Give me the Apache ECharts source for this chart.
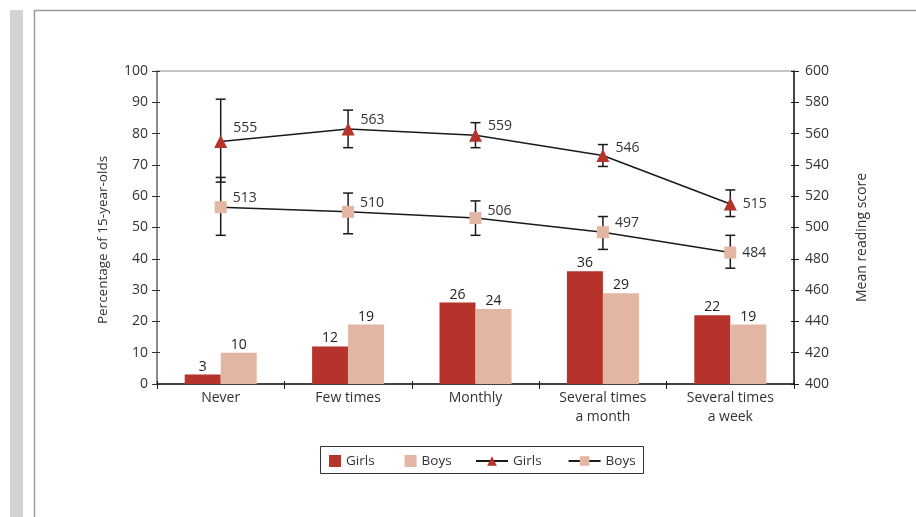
<!DOCTYPE html>
<html>
<head>
<meta charset="utf-8">
<script src="https://cdn.jsdelivr.net/npm/echarts@6/dist/echarts.min.js"></script>
<style>
  html, body { margin: 0; padding: 0; background: #fff; }
  #chart { width: 916px; height: 517px; }
</style>
</head>
<body>
<div id="chart"></div>
<script>
// Reading frequency categories
const categories = ['Never', 'Few times', 'Monthly', 'Several times\na month', 'Several times\na week'];

// Share of 15-year-olds (%)
const girlsPct = [3, 12, 26, 36, 22];
const boysPct = [10, 19, 24, 29, 19];

// Mean reading score
const girlsScore = [555, 563, 559, 546, 515];
const boysScore = [513, 510, 506, 497, 484];

// Confidence interval bounds of the mean score
const girlsLow = [529, 551, 551, 539, 507];
const girlsHigh = [582, 575, 567, 553, 524];
const boysLow = [495, 496, 495, 486, 474];
const boysHigh = [532, 522, 517, 507, 495];

// Axis ranges
const pctMin = 0, pctMax = 100, pctStep = 10;
const scoreMin = 400, scoreMax = 600, scoreStep = 20;

const RED = '#b5332a';
const PINK = '#e3b5a3';
const FONT = 'Open Sans';
const TXT = '#333';
const FS = 14;

// vertical nudge of the score labels, per point
const girlsLabelDy = [-13, -9, -9, -7, 0];
const boysLabelDy = [-9, -9, -7, -9, 0];

function scoreData(values, dy) {
  return values.map((v, i) => ({
    value: v,
    label: { offset: [0, dy[i]] }
  }));
}

function errorSeries(name, low, high) {
  return {
    name: name,
    type: 'custom',
    xAxisIndex: 0,
    yAxisIndex: 1,
    z: 1,
    silent: true,
    data: categories.map((c, i) => [i, low[i], high[i]]),
    renderItem: function (params, api) {
      const x = api.value(0);
      const lo = api.coord([x, api.value(1)]);
      const hi = api.coord([x, api.value(2)]);
      const w = 5;
      const st = { stroke: '#1a1a1a', lineWidth: 1.5 };
      return {
        type: 'group',
        children: [
          { type: 'line', shape: { x1: lo[0], y1: lo[1], x2: hi[0], y2: hi[1] }, style: st },
          { type: 'line', shape: { x1: lo[0] - w, y1: lo[1], x2: lo[0] + w, y2: lo[1] }, style: st },
          { type: 'line', shape: { x1: hi[0] - w, y1: hi[1], x2: hi[0] + w, y2: hi[1] }, style: st }
        ]
      };
    }
  };
}

const chart = echarts.init(document.getElementById('chart'), null, { renderer: 'canvas' });

const tickLabel = { fontFamily: FONT, fontSize: FS, color: TXT };

chart.setOption({
  animation: false,
  backgroundColor: '#fff',
  textStyle: { fontFamily: FONT },
  graphic: [
    { type: 'rect', shape: { x: 10, y: 10, width: 13, height: 507 }, style: { fill: '#d3d3d3' }, silent: true },
    { type: 'line', shape: { x1: 34, y1: 10.5, x2: 916, y2: 10.5 }, style: { stroke: '#9a9a9a', lineWidth: 1.5 }, silent: true },
    { type: 'line', shape: { x1: 34.5, y1: 10, x2: 34.5, y2: 517 }, style: { stroke: '#9a9a9a', lineWidth: 1.5 }, silent: true },
    { type: 'rect', shape: { x: 320.5, y: 446.5, width: 323, height: 27 }, style: { fill: 'none', stroke: '#333', lineWidth: 1 }, silent: true }
  ],
  grid: {
    left: 157, right: 122, top: 71, bottom: 133,
    show: true, borderColor: '#8a8a8a', borderWidth: 1, backgroundColor: 'transparent'
  },
  legend: [
    {
      data: ['Girls (%)', 'Boys (%)'],
      left: 329, top: 454,
      padding: 0,
      itemWidth: 12, itemHeight: 12, itemGap: 30,
      icon: 'rect',
      formatter: n => n.replace(/ \(.*\)$/, ''),
      textStyle: { fontFamily: FONT, fontSize: 13.5, color: TXT },
      selectedMode: false
    },
    {
      data: ['Girls (score)', 'Boys (score)'],
      left: 475, top: 454,
      padding: 0,
      itemWidth: 32, itemHeight: 12, itemGap: 26,
      formatter: n => n.replace(/ \(.*\)$/, ''),
      textStyle: { fontFamily: FONT, fontSize: 13.5, color: TXT },
      selectedMode: false
    }
  ],
  xAxis: [
    {
      type: 'category',
      data: categories,
      position: 'bottom',
      axisLine: { lineStyle: { color: '#1a1a1a', width: 1.5 } },
      axisTick: { show: true, length: 5, lineStyle: { color: '#1a1a1a' } },
      axisLabel: { ...tickLabel, margin: 5, lineHeight: 19, interval: 0 },
      splitLine: { show: false }
    },
    {
      type: 'category',
      data: categories,
      position: 'bottom',
      axisLine: { show: false },
      axisTick: { show: true, inside: true, length: 3, lineStyle: { color: '#1a1a1a' } },
      axisLabel: { show: false },
      splitLine: { show: false }
    }
  ],
  yAxis: [
    {
      type: 'value',
      position: 'left',
      min: pctMin, max: pctMax, interval: pctStep,
      name: 'Percentage of 15-year-olds',
      nameLocation: 'middle',
      nameRotate: 90,
      nameGap: 47,
      nameTextStyle: { fontFamily: FONT, fontSize: 13.5, color: TXT, padding: [0, 25, 0, 0] },
      axisLine: { show: true, lineStyle: { color: '#7a7a7a', width: 1.5 } },
      axisTick: { show: true, length: 5, lineStyle: { color: '#333' } },
      axisLabel: { ...tickLabel, margin: 9 },
      splitLine: { show: false }
    },
    {
      type: 'value',
      position: 'right',
      min: scoreMin, max: scoreMax, interval: scoreStep,
      name: 'Mean reading score',
      nameLocation: 'middle',
      nameRotate: 90,
      nameGap: 61,
      nameTextStyle: { fontFamily: FONT, fontSize: FS, color: TXT, padding: [0, 20, 0, 0] },
      axisLine: { show: true, lineStyle: { color: '#1a1a1a', width: 1.5 } },
      axisTick: { show: true, length: 5, lineStyle: { color: '#1a1a1a' } },
      axisLabel: { ...tickLabel, margin: 11 },
      splitLine: { show: false }
    },
    {
      type: 'value',
      position: 'left',
      min: pctMin, max: pctMax, interval: pctStep,
      axisLine: { show: false },
      axisTick: { show: true, inside: true, length: 3, lineStyle: { color: '#333' } },
      axisLabel: { show: false },
      splitLine: { show: false }
    },
    {
      type: 'value',
      position: 'right',
      min: scoreMin, max: scoreMax, interval: scoreStep,
      axisLine: { show: false },
      axisTick: { show: true, inside: true, length: 3, lineStyle: { color: '#1a1a1a' } },
      axisLabel: { show: false },
      splitLine: { show: false }
    }
  ],
  series: [
    {
      name: 'Girls (%)',
      type: 'bar',
      xAxisIndex: 0, yAxisIndex: 0,
      data: girlsPct,
      barWidth: 36,
      barGap: '0%',
      itemStyle: { color: RED },
      label: { show: true, position: 'top', distance: 1, fontFamily: FONT, fontSize: FS, color: '#222' }
    },
    {
      name: 'Boys (%)',
      type: 'bar',
      xAxisIndex: 0, yAxisIndex: 0,
      data: boysPct,
      barWidth: 36,
      barGap: '0%',
      itemStyle: { color: PINK },
      label: { show: true, position: 'top', distance: 1, fontFamily: FONT, fontSize: FS, color: '#222' }
    },
    errorSeries('Girls CI', girlsLow, girlsHigh),
    errorSeries('Boys CI', boysLow, boysHigh),
    {
      name: 'Girls (score)',
      type: 'line',
      xAxisIndex: 0, yAxisIndex: 1,
      z: 3,
      data: scoreData(girlsScore, girlsLabelDy),
      symbol: 'triangle',
      symbolSize: 13,
      lineStyle: { color: '#1a1a1a', width: 1.5 },
      itemStyle: { color: RED },
      label: { show: true, position: 'right', distance: 6, fontFamily: FONT, fontSize: FS, color: TXT }
    },
    {
      name: 'Boys (score)',
      type: 'line',
      xAxisIndex: 0, yAxisIndex: 1,
      z: 3,
      data: scoreData(boysScore, boysLabelDy),
      symbol: 'rect',
      symbolSize: 12,
      lineStyle: { color: '#1a1a1a', width: 1.5 },
      itemStyle: { color: PINK },
      label: { show: true, position: 'right', distance: 6, fontFamily: FONT, fontSize: FS, color: TXT }
    }
  ]
});
</script>
</body>
</html>
